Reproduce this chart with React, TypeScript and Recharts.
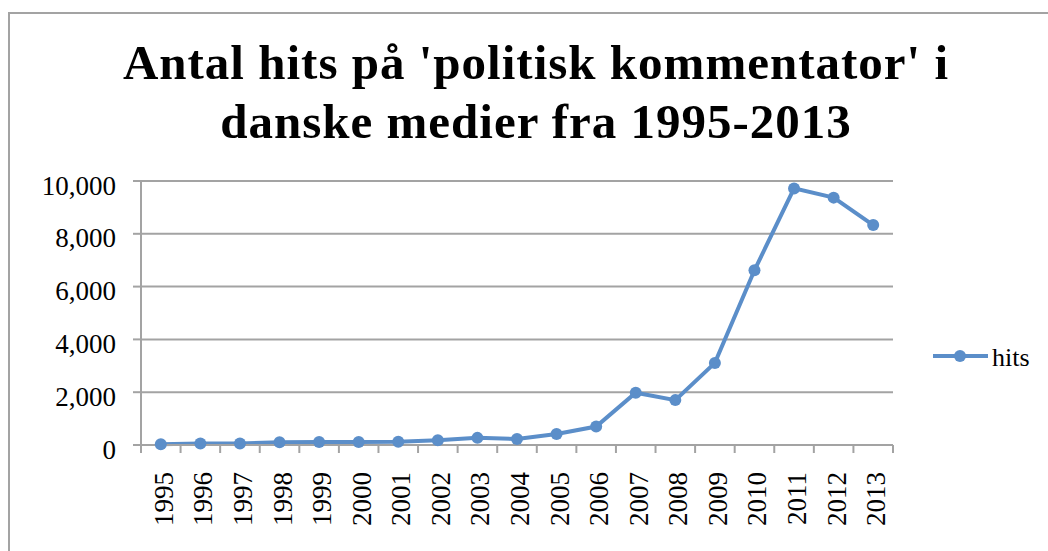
import React from "react"
import { LineChart, Line, XAxis, YAxis, CartesianGrid } from "recharts"

const years = ["1995", "1996", "1997", "1998", "1999", "2000", "2001", "2002", "2003", "2004", "2005", "2006", "2007", "2008", "2009", "2010", "2011", "2012", "2013"]
const hits = [30, 60, 60, 100, 110, 110, 120, 180, 270, 230, 420, 700, 1980, 1700, 3110, 6620, 9720, 9370, 8330]
const yTicks = [0, 2000, 4000, 6000, 8000, 10000]
const seriesName = "hits"
const titleLines = ["Antal hits på 'politisk kommentator' i", "danske medier fra 1995-2013"]

const data = years.map((year, i) => ({ year, hits: hits[i] }))

const W = 1048
const H = 551
const plotLeft = 141
const plotRight = 893
const plotTop = 181
const plotBottom = 445
const step = (plotRight - plotLeft) / years.length
const lineColor = "#5b8ec9"
const gridColor = "#a3a3a3"
const serif = "'Liberation Serif', 'Times New Roman', serif"

function YearTick(props: any) {
  const { x, y, payload, index } = props
  const last = index === years.length - 1
  return (
    <g>
      <line x1={x - step / 2} x2={x - step / 2} y1={y} y2={y + 8} stroke={gridColor} strokeWidth={2} />
      {last && <line x1={x + step / 2} x2={x + step / 2} y1={y} y2={y + 8} stroke={gridColor} strokeWidth={2} />}
      <text
        transform={`translate(${x + 12},${y + 27}) rotate(-90)`}
        textAnchor="end"
        fontSize={27}
        fontFamily={serif}
        fill="#000"
      >
        {payload.value}
      </text>
    </g>
  )
}

export default function App() {
  return (
    <div style={{ position: "absolute", left: 0, top: 0, width: W, height: H, background: "#fff", overflow: "hidden" }}>
      <div style={{ position: "absolute", left: 8, top: 12, width: 1100, height: 600, borderLeft: `2px solid ${gridColor}`, borderTop: `2px solid ${gridColor}` }} />
      <div style={{ position: "absolute", left: 0, top: 33, width: 1072, textAlign: "center", fontFamily: serif, fontWeight: "bold", fontSize: 49, letterSpacing: 1, lineHeight: "59px", color: "#000", whiteSpace: "nowrap" }}>
        {titleLines.map((t) => <div key={t}>{t}</div>)}
      </div>
      <LineChart width={W} height={H} data={data} margin={{ top: plotTop, right: W - plotRight, bottom: 0, left: 0 }} style={{ position: "absolute", left: 0, top: 0 }}>
        <CartesianGrid vertical={false} stroke={gridColor} strokeWidth={2} />
        <XAxis
          dataKey="year"
          height={H - plotBottom}
          padding={{ left: step / 2, right: step / 2 }}
          tick={<YearTick />}
          tickLine={false}
          tickSize={0}
          tickMargin={0}
          interval={0}
          axisLine={{ stroke: gridColor, strokeWidth: 2 }}
        />
        <YAxis
          width={plotLeft}
          domain={[0, 10000]}
          ticks={yTicks}
          tickFormatter={(v: number) => v.toLocaleString("en-US")}
          tick={{ fontSize: 27, fontFamily: serif, fill: "#000", dy: 4 }}
          tickSize={8}
          tickMargin={17}
          tickLine={{ stroke: gridColor, strokeWidth: 2 }}
          axisLine={{ stroke: gridColor, strokeWidth: 2 }}
        />
        <Line
          type="linear"
          dataKey="hits"
          name={seriesName}
          stroke={lineColor}
          strokeWidth={4}
          dot={{ r: 6, fill: lineColor, stroke: lineColor, strokeWidth: 0 }}
          isAnimationActive={false}
        />
      </LineChart>
      <svg width={120} height={40} style={{ position: "absolute", left: 930, top: 336 }}>
        <line x1={3} x2={58} y1={20} y2={20} stroke={lineColor} strokeWidth={4} />
        <circle cx={30} cy={20} r={6} fill={lineColor} />
        <text x={62} y={30} fontSize={26} fontFamily={serif} fill="#000">{seriesName}</text>
      </svg>
    </div>
  )
}
